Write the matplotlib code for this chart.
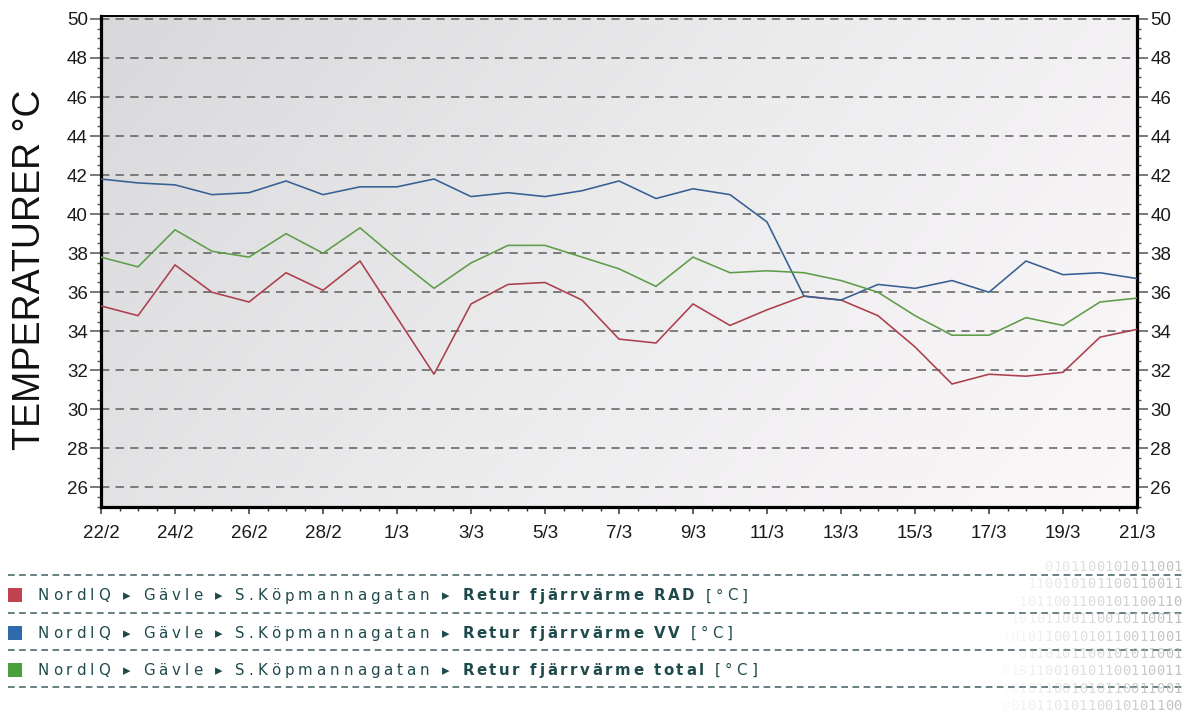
import numpy as np
import pandas as pd
import matplotlib
matplotlib.use("Agg")
import matplotlib.pyplot as plt
import matplotlib.dates as mdates
from matplotlib.patches import Rectangle
from matplotlib.font_manager import FontProperties, findfont
from matplotlib.ft2font import FT2Font

plt.rcParams["lines.scale_dashes"] = False

# ---- data -----------------------------------------------------------------
dates = pd.date_range("2012-02-22", "2012-03-21", freq="D")

rad = [35.3, 34.8, 37.4, 36.0, 35.5, 37.0, 36.1, 37.6, 34.7, 31.8,
       35.4, 36.4, 36.5, 35.6, 33.6, 33.4, 35.4, 34.3, 35.1, 35.8,
       35.6, 34.8, 33.2, 31.3, 31.8, 31.7, 31.9, 33.7, 34.1]
vv = [41.8, 41.6, 41.5, 41.0, 41.1, 41.7, 41.0, 41.4, 41.4, 41.8,
      40.9, 41.1, 40.9, 41.2, 41.7, 40.8, 41.3, 41.0, 39.6, 35.8,
      35.6, 36.4, 36.2, 36.6, 36.0, 37.6, 36.9, 37.0, 36.7]
total = [37.8, 37.3, 39.2, 38.1, 37.8, 39.0, 38.0, 39.3, 37.7, 36.2,
         37.5, 38.4, 38.4, 37.8, 37.2, 36.3, 37.8, 37.0, 37.1, 37.0,
         36.6, 36.0, 34.8, 33.8, 33.8, 34.7, 34.3, 35.5, 35.7]

series_names = ["Retur fjärrvärme RAD", "Retur fjärrvärme VV", "Retur fjärrvärme total"]
series_values = [rad, vv, total]
line_colors = ["#ab3f4c", "#365f93", "#5e9d48"]
legend_colors = ["#c0434f", "#2f6aad", "#4aa13c"]
path_prefix = "NordIQ ▸ Gävle ▸ S.Köpmannagatan ▸ "
unit_suffix = " [°C]"

y_ticks = list(range(26, 51, 2))
x_tick_dates = dates[::2]
x_tick_labels = [f"{d.day}/{d.month}" for d in x_tick_dates]

binary_rows = ["0101100101011001", "110010101100110011", "1011001100101100110",
               "10101100110010110011", "101011001010110011001", "0110101100101011001",
               "1010110010101100110011", "01101011001010110011001", "101001011010110010101100"]

# ---- figure ---------------------------------------------------------------
W, H = 1185, 713
fig = plt.figure(figsize=(W / 100, H / 100), dpi=100, facecolor="white")

left, right, top, bottom = 101, 1137, 16, 507
ax = fig.add_axes([left / W, 1 - bottom / H, (right - left) / W, (bottom - top) / H])

# soft grey plot background, darker at the upper left
nx, ny = 300, 150
xf = np.linspace(0, 1, nx)[None, :]
yf = np.linspace(1, 0, ny)[:, None]
t = np.clip(0.72 * xf + 0.28 * (1 - yf), 0, 1)
c0 = np.array([0.850, 0.850, 0.860])
c1 = np.array([0.925, 0.925, 0.93])
c2 = np.array([0.988, 0.972, 0.980])
tt = t[..., None]
grad = np.where(tt < 0.5, c0 + (c1 - c0) * (tt / 0.5), c1 + (c2 - c1) * ((tt - 0.5) / 0.5))
ax.imshow(grad, extent=[0, 1, 0, 1], transform=ax.transAxes, aspect="auto",
          zorder=-2, interpolation="bilinear")

for vals, col in zip(series_values, line_colors):
    ax.plot(dates, vals, color=col, lw=1.15, zorder=3, solid_joinstyle="miter")

ax.set_xlim(dates[0], dates[-1])
ax.set_ylim(25, 50.15)

ax.yaxis.grid(True, which="major", color="#5e5e5e", lw=1.1, dashes=(6, 4.5))
ax.set_axisbelow(True)

ax.set_yticks(y_ticks)
ax.yaxis.set_minor_locator(matplotlib.ticker.MultipleLocator(0.5))
ax.set_xticks(mdates.date2num(x_tick_dates))
ax.set_xticklabels(x_tick_labels)
ax.xaxis.set_minor_locator(mdates.HourLocator(byhour=[0, 12]))

ax.tick_params(axis="y", which="major", direction="out", length=8, width=1.1,
               color="#555555", pad=1.5, left=True, right=True,
               labelleft=True, labelright=True)
ax.tick_params(axis="y", which="minor", direction="out", length=3, width=1,
               color="#555555", left=True, right=True)
ax.tick_params(axis="x", which="major", direction="out", length=5, width=1.1,
               color="#333333", pad=8)
ax.tick_params(axis="x", which="minor", direction="out", length=3, width=1,
               color="#333333")
for lab in ax.get_xticklabels() + ax.get_yticklabels():
    lab.set_fontfamily("Liberation Sans")
    lab.set_fontsize(13.5)
    lab.set_color("#1a1a1a")

for side in ("left", "right", "bottom"):
    ax.spines[side].set_linewidth(2.3)
ax.spines["top"].set_linewidth(1.4)
for s in ax.spines.values():
    s.set_color("black")

# ---- overlay in pixel coordinates for title and legend ----------------------
ov = fig.add_axes([0, 0, 1, 1])
ov.set_xlim(0, W)
ov.set_ylim(H, 0)
ov.axis("off")

ov.text(30, 270, "TEMPERATURER °C", rotation=90, ha="center", va="center",
        fontsize=27, family="Liberation Sans", color="#111111")

text_color = "#1f4a4c"
size_px = 15.0


def advances(s, weight):
    fp = FontProperties(family="DejaVu Sans", weight=weight)
    font = FT2Font(findfont(fp))
    font.set_size(size_px, 72)
    out = []
    for ch in s:
        g = font.load_char(ord(ch))
        out.append(g.linearHoriAdvance / 65536.0)
    return out


def spaced_text(x, y, s, weight, spacing):
    adv = advances(s, weight)
    for ch, a in zip(s, adv):
        if ch != " ":
            ov.text(x, y, ch, ha="left", va="baseline", fontsize=size_px * 0.72,
                    family="DejaVu Sans", weight=weight, color=text_color)
        x += a + spacing
    return x


sep_y = [575, 612.5, 650, 687]
for yy in sep_y:
    ov.plot([8, 1185], [yy, yy], color="#3d5d60", lw=1.1, dashes=(4.8, 3.2))

row_y = [595, 632.5, 669.5]
for name, col, yy in zip(series_names, legend_colors, row_y):
    ov.add_patch(Rectangle((8, yy - 7), 14, 14, facecolor=col, edgecolor="none"))
    xx = spaced_text(37.5, yy + 5.5, path_prefix, "normal", 4.0)
    xx = spaced_text(xx, yy + 5.5, name, "bold", 2.6)
    spaced_text(xx, yy + 5.5, unit_suffix, "normal", 4.0)

# faint binary pattern on the lower right
for k, row in enumerate(binary_rows):
    yy = 567 + 17.4 * k
    xx = 1182
    for ch in reversed(row):
        xx -= 8.6
        a = np.clip((xx - 985) / 190, 0, 1)
        if a > 0.02:
            ov.text(xx, yy, ch, ha="left", va="center", fontsize=10,
                    family="DejaVu Sans Mono", color="#b8b8b8", alpha=a * 0.9)

fig.savefig("out.png", dpi=100, facecolor="white")
